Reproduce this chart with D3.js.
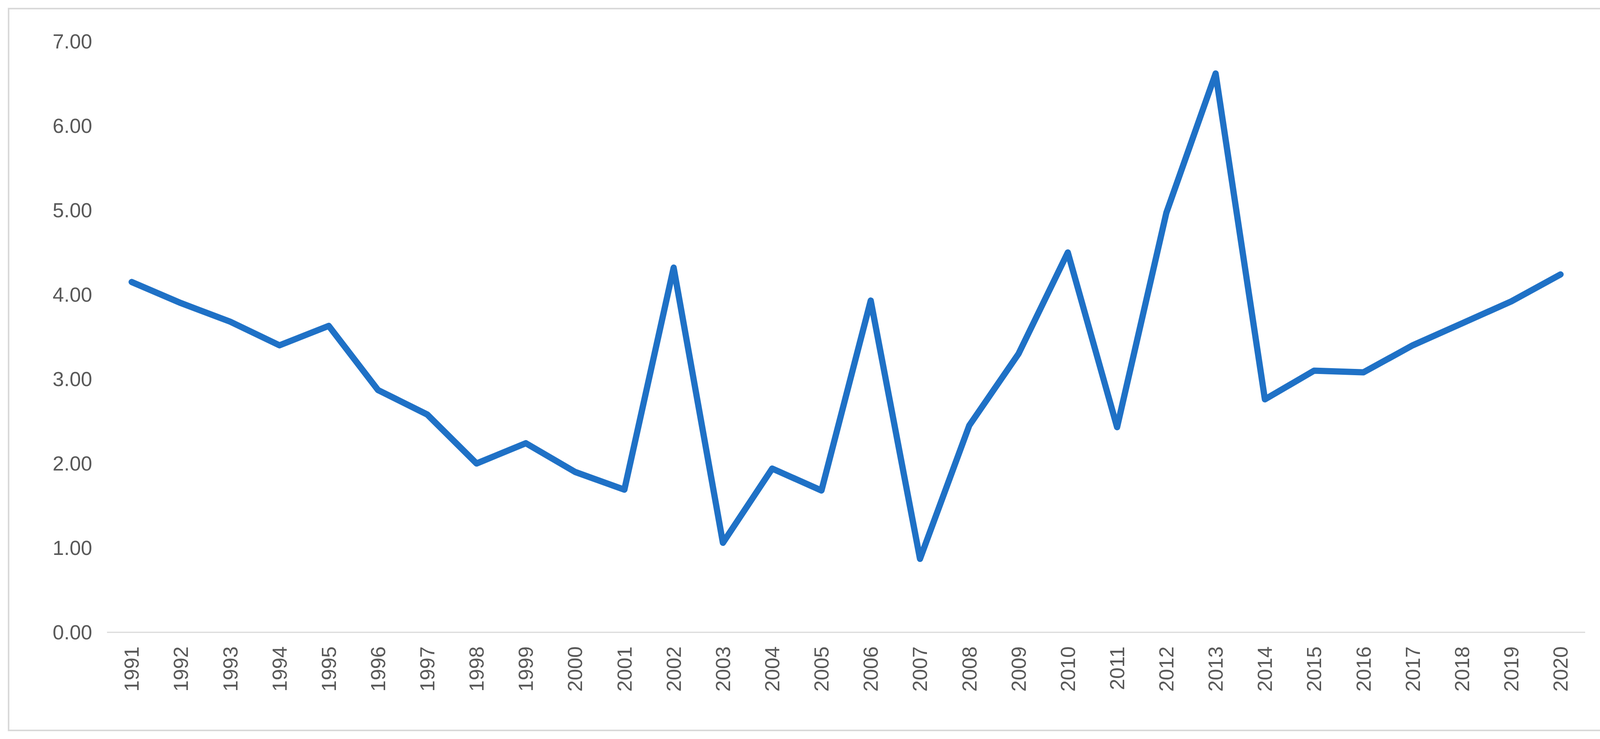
<!DOCTYPE html>
<html>
<head>
<meta charset="utf-8">
<script src="https://cdn.jsdelivr.net/npm/d3@7"></script>
<style>
  body { margin: 0; background: #fff; }
  svg { display: block; }
</style>
</head>
<body>
<svg id="chart"></svg>
<script>
const years = ["1991","1992","1993","1994","1995","1996","1997","1998","1999","2000",
  "2001","2002","2003","2004","2005","2006","2007","2008","2009","2010",
  "2011","2012","2013","2014","2015","2016","2017","2018","2019","2020"];
const values = [4.15, 3.90, 3.68, 3.40, 3.63, 2.87, 2.58, 2.00, 2.24, 1.90,
  1.69, 4.32, 1.06, 1.94, 1.68, 3.93, 0.87, 2.45, 3.30, 4.50,
  2.43, 4.97, 6.62, 2.76, 3.10, 3.08, 3.40, 3.66, 3.92, 4.24];
const yTicks = [0, 1, 2, 3, 4, 5, 6, 7];

const width = 4173, height = 1891;
const svg = d3.select("#chart").attr("width", width).attr("height", height);

svg.append("rect")
  .attr("x", 22).attr("y", 22)
  .attr("width", width - 44).attr("height", height - 44)
  .attr("fill", "#fff").attr("stroke", "#d9d9d9").attr("stroke-width", 4);

const plotLeft = 274, plotRight = 4058, plotTop = 106, plotBottom = 1618;

const x = d3.scaleBand().domain(years).range([plotLeft, plotRight]);
const y = d3.scaleLinear().domain([0, 7]).range([plotBottom, plotTop]);

const font = "'Liberation Sans', 'Open Sans', sans-serif";

// y tick labels
svg.append("g")
  .selectAll("text")
  .data(yTicks)
  .enter()
  .append("text")
  .attr("x", plotLeft - 38)
  .attr("y", d => y(d))
  .attr("dy", "0.35em")
  .attr("text-anchor", "end")
  .attr("font-family", font)
  .attr("font-size", "52px")
  .attr("fill", "#595959")
  .text(d => d.toFixed(2));

// x axis line
svg.append("line")
  .attr("x1", plotLeft).attr("x2", plotRight)
  .attr("y1", y(0)).attr("y2", y(0))
  .attr("stroke", "#d9d9d9").attr("stroke-width", 3);

// x tick labels
svg.append("g")
  .selectAll("text")
  .data(years)
  .enter()
  .append("text")
  .attr("transform", d => "translate(" + (x(d) + x.bandwidth() / 2) + "," + (y(0) + 36) + ") rotate(-90)")
  .attr("dy", "0.35em")
  .attr("text-anchor", "end")
  .attr("font-family", font)
  .attr("font-size", "52px")
  .attr("fill", "#595959")
  .text(d => d);

const line = d3.line()
  .x((d, i) => x(years[i]) + x.bandwidth() / 2)
  .y(d => y(d));

svg.append("path")
  .datum(values)
  .attr("d", line)
  .attr("fill", "none")
  .attr("stroke", "#1f71c6")
  .attr("stroke-width", 16)
  .attr("stroke-linejoin", "round")
  .attr("stroke-linecap", "round");
</script>
</body>
</html>
